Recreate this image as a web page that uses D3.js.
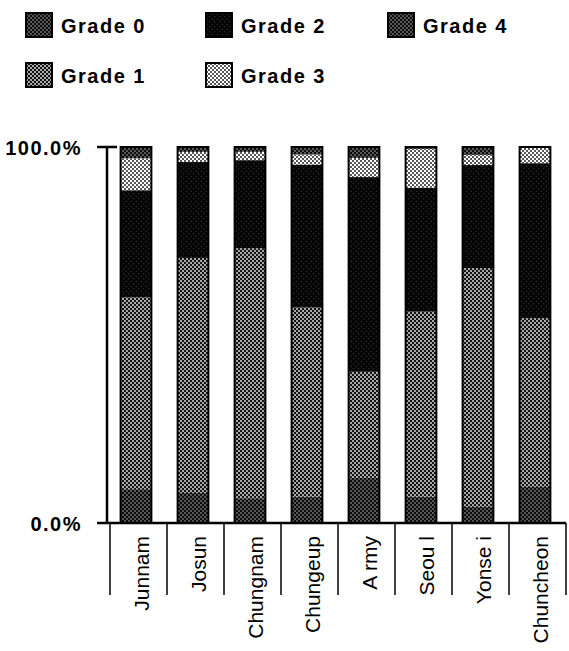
<!DOCTYPE html>
<html>
<head>
<meta charset="utf-8">
<script src="https://cdn.jsdelivr.net/npm/d3@7"></script>
<style>
  body { margin: 0; background: #fff; }
  text { font-family: "Liberation Sans", Arial, sans-serif; fill: #000; }
</style>
</head>
<body>
<div id="chart"></div>
<script>
// Data (share of each grade, %), bottom to top
var categories = ["Junnam", "Josun", "Chungnam", "Chungeup", "Army", "Seoul", "Yonsei", "Chuncheon"];
var labels = ["Junnam", "Josun", "Chungnam", "Chungeup", "A rmy", "Seou l", "Yonse i", "Chuncheon"];
var grade0 = [9.0, 8.0, 6.6, 7.0, 12.0, 7.0, 4.3, 9.6];
var grade1 = [51.0, 62.5, 66.5, 50.3, 28.2, 49.2, 63.5, 44.9];
var grade2 = [28.5, 25.5, 23.4, 38.0, 51.8, 33.0, 27.4, 41.2];
var grade3 = [8.5, 2.7, 2.2, 2.7, 5.1, 10.3, 2.7, 4.3];
var grade4 = [3.0, 1.3, 1.3, 2.0, 2.9, 0.5, 2.1, 0.0];
var grades = ["Grade 0", "Grade 1", "Grade 2", "Grade 3", "Grade 4"];
var yTicks = [0, 1];

var width = 569, height = 651;

var svg = d3.select("#chart")
            .append("svg")
            .attr("width", width)
            .attr("height", height);

// halftone-like patterns
var defs = svg.append("defs");
function dotPattern(id, bg, fg, r, size) {
    var p = defs.append("pattern")
        .attr("id", id)
        .attr("patternUnits", "userSpaceOnUse")
        .attr("width", size)
        .attr("height", size);
    p.append("rect").attr("width", size).attr("height", size).attr("fill", bg);
    p.append("circle").attr("cx", size / 4).attr("cy", size / 4).attr("r", r).attr("fill", fg);
    p.append("circle").attr("cx", size * 3 / 4).attr("cy", size * 3 / 4).attr("r", r).attr("fill", fg);
}
dotPattern("g0", "#0c0c0c", "#c8c8c8", 0.75, 4);
dotPattern("g1", "#141414", "#d8d8d8", 1.0, 4);
dotPattern("g2", "#050505", "#5a5a5a", 0.5, 5);
dotPattern("g3", "#ffffff", "#111111", 0.95, 4);
dotPattern("g4", "#0c0c0c", "#c8c8c8", 0.75, 4);
var fills = ["url(#g0)", "url(#g1)", "url(#g2)", "url(#g3)", "url(#g4)"];

var table = categories.map(function(c, i) {
    return { cat: c, g0: grade0[i], g1: grade1[i], g2: grade2[i], g3: grade3[i], g4: grade4[i] };
});
var keys = ["g0", "g1", "g2", "g3", "g4"];
var series = d3.stack().keys(keys).offset(d3.stackOffsetExpand)(table);

// scales
var xScale = d3.scaleBand()
    .domain(categories)
    .range([110, 566])
    .padding(0);

var yScale = d3.scaleLinear()
    .domain([0, 1])
    .range([523, 147]);

var barW = xScale.bandwidth() * 0.54;
var barOff = (xScale.bandwidth() - barW) / 2 - 2.5;

// bars
svg.append("g")
   .selectAll("g")
   .data(series)
   .enter()
   .append("g")
   .attr("fill", function(d, i) { return fills[i]; })
   .selectAll("rect")
   .data(function(d) { return d; })
   .enter()
   .append("rect")
   .attr("x", function(d) { return xScale(d.data.cat) + barOff; })
   .attr("y", function(d) { return yScale(d[1]); })
   .attr("width", barW)
   .attr("height", function(d) { return yScale(d[0]) - yScale(d[1]); });

// bar outlines
svg.append("g")
   .selectAll("rect")
   .data(categories)
   .enter()
   .append("rect")
   .attr("x", function(d) { return xScale(d) + barOff; })
   .attr("y", yScale(1))
   .attr("width", barW)
   .attr("height", yScale(0) - yScale(1))
   .attr("fill", "none")
   .attr("stroke", "#000")
   .attr("stroke-width", 2);

// y axis
var axisX = 107;
svg.append("line")
   .attr("x1", axisX).attr("x2", axisX)
   .attr("y1", yScale(1)).attr("y2", yScale(0))
   .attr("stroke", "#000").attr("stroke-width", 2.5);

svg.selectAll(".ytick")
   .data(yTicks)
   .enter()
   .append("line")
   .attr("x1", axisX - 10)
   .attr("x2", function(d) { return d === 1 ? axisX + 10 : xScale.range()[1]; })
   .attr("y1", function(d) { return yScale(d); })
   .attr("y2", function(d) { return yScale(d); })
   .attr("stroke", "#000").attr("stroke-width", 2.5);

svg.selectAll(".ylabel")
   .data(yTicks)
   .enter()
   .append("text")
   .attr("x", 82)
   .attr("y", function(d) { return yScale(d) + 8; })
   .attr("text-anchor", "end")
   .style("font-size", "20px")
   .style("font-weight", "bold")
   .style("letter-spacing", "1.5px")
   .text(function(d) { return d3.format(".1%")(d); });

// category separators
var seps = categories.map(function(c) { return xScale(c); }).concat([xScale.range()[1]]);
svg.selectAll(".sep")
   .data(seps)
   .enter()
   .append("line")
   .attr("x1", function(d) { return d; })
   .attr("x2", function(d) { return d; })
   .attr("y1", yScale(0))
   .attr("y2", 595)
   .attr("stroke", "#000").attr("stroke-width", 1.5);

// category labels (rotated)
svg.selectAll(".xlabel")
   .data(categories)
   .enter()
   .append("text")
   .attr("transform", function(d) {
       return "translate(" + (xScale(d) + xScale.bandwidth() / 2 + 10) + ",536) rotate(-90)";
   })
   .attr("text-anchor", "end")
   .style("font-size", "21px")
   .text(function(d, i) { return labels[i]; });

// legend
var legendPos = [[26, 13], [26, 63], [206, 13], [206, 63], [388, 13]];
var legend = svg.selectAll(".legend")
   .data(grades)
   .enter()
   .append("g")
   .attr("transform", function(d, i) { return "translate(" + legendPos[i][0] + "," + legendPos[i][1] + ")"; });

legend.append("rect")
   .attr("width", 26)
   .attr("height", 24)
   .attr("fill", function(d, i) { return fills[i]; })
   .attr("stroke", "#000")
   .attr("stroke-width", 2);

legend.append("text")
   .attr("x", 35)
   .attr("y", 20)
   .style("font-size", "20px")
   .style("font-weight", "bold")
   .style("letter-spacing", "1.5px")
   .text(function(d) { return d; });
</script>
</body>
</html>
